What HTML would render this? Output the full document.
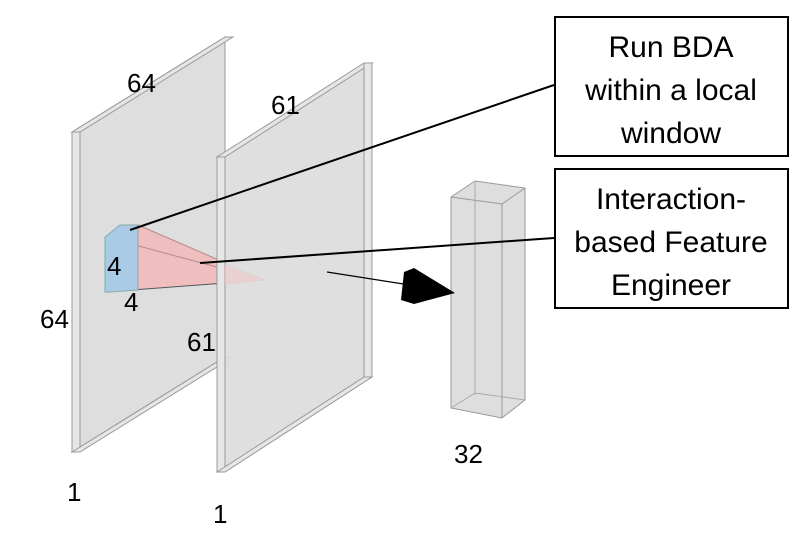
<!DOCTYPE html>
<html><head><meta charset="utf-8"><style>
body{margin:0;background:#fff;width:799px;height:542px;overflow:hidden}
svg{display:block}
text{font-family:"Liberation Sans",sans-serif}
</style></head><body>
<svg width="799" height="542" viewBox="0 0 799 542">
<polygon points="72,132 225,37 225,357 72,452" fill="#dedede" stroke="#999" stroke-width="1"/>
<polygon points="72,132 80,132 80,452 72,452" fill="#e6e6e6" stroke="#999"/>
<polygon points="72,132 225,37 233,37 80,132" fill="#e6e6e6" stroke="#999"/>
<polygon points="72,452 225,357 233,357 80,452" fill="#e6e6e6" stroke="#999"/>
<polygon points="105,237 120,225 138,225 265,280 138,290 105,292" fill="#f2b9b9" opacity="0.85"/>
<line x1="105" y1="237" x2="265" y2="280" stroke="#b88" stroke-width="1"/>
<line x1="138" y1="225" x2="265" y2="280" stroke="#b88" stroke-width="1"/>
<line x1="105" y1="292" x2="265" y2="280" stroke="#555" stroke-width="1"/>
<polygon points="105,237 120,225 138,225 138,290 110,292 105,292" fill="#a9cbe6" stroke="#8aa" stroke-width="1"/>
<polygon points="217,157 372,63 372,377 217,472" fill="#dcdcdc" fill-opacity="0.92" stroke="#999"/>
<polygon points="217,157 225,157 225,472 217,472" fill="#e6e6e6" stroke="#999"/>
<polygon points="217,157 364,63 372,63 225,157" fill="#e6e6e6" stroke="#999"/>
<polygon points="364,63 372,63 372,377 364,377" fill="#e6e6e6" stroke="#999"/>
<polygon points="217,472 364,377 372,377 225,472" fill="#e6e6e6" stroke="#999"/>
<polygon points="225,265 265,280 225,285" fill="#f2c9c9" opacity="0.6"/>
<polygon points="451,197 475,181 525,188 525,400 502,418 451,408" fill="#dedede" stroke="#999"/>
<polyline points="451,197 502,204 525,188" fill="none" stroke="#999"/>
<line x1="502" y1="204" x2="502" y2="418" stroke="#999"/>
<line x1="475" y1="181" x2="475" y2="395" stroke="#aaa"/>
<polyline points="451,408 475,393 525,400" fill="none" stroke="#aaa"/>
<line x1="327" y1="272" x2="410" y2="285" stroke="#000" stroke-width="1.2"/>
<polygon points="404,272 414,268 455,293 414,304 401,300" fill="#000"/>
<line x1="130" y1="230" x2="554" y2="85" stroke="#000" stroke-width="2"/>
<line x1="200" y1="263" x2="554" y2="238" stroke="#000" stroke-width="2"/>
<rect x="555" y="17" width="233" height="139" fill="#fff" stroke="#000" stroke-width="2"/>
<rect x="555" y="169" width="233" height="139" fill="#fff" stroke="#000" stroke-width="2"/>
<g font-size="30" text-anchor="middle" fill="#000">
<text x="671" y="57">Run BDA</text>
<text x="671" y="100">within a local</text>
<text x="671" y="143">window</text>
<text x="671" y="209">Interaction-</text>
<text x="671" y="252">based Feature</text>
<text x="671" y="295">Engineer</text>
</g>
<g font-size="26" fill="#000">
<text x="127" y="92">64</text>
<text x="271" y="114">61</text>
<text x="40" y="328">64</text>
<text x="107" y="275">4</text>
<text x="124" y="311">4</text>
<text x="187" y="351">61</text>
<text x="67" y="501">1</text>
<text x="213" y="523">1</text>
<text x="454" y="463">32</text>
</g>
</svg>
</body></html>
